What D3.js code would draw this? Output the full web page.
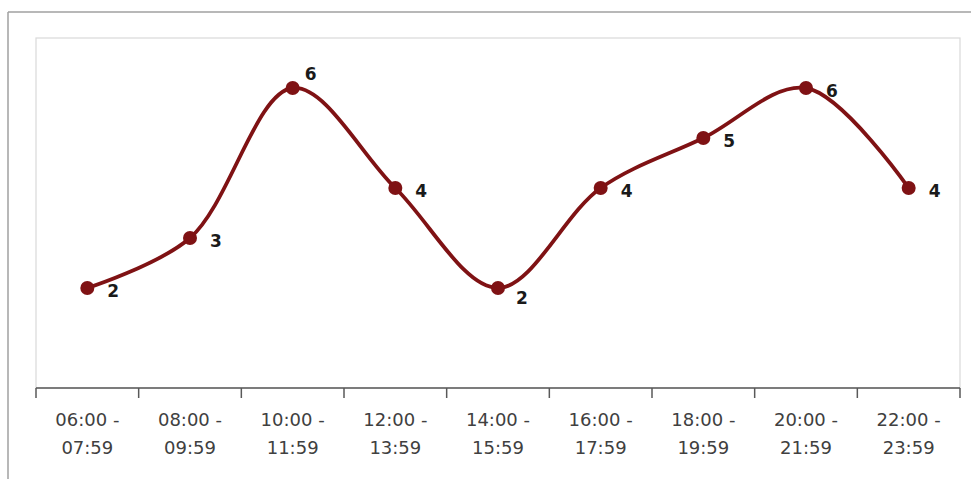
<!DOCTYPE html>
<html><head><meta charset="utf-8">
<script src="https://cdn.jsdelivr.net/npm/d3@7"></script>
<style>html,body{margin:0;padding:0;background:#fff;}svg{display:block;}</style>
</head><body>
<script>
const categories = ["06:00 - 07:59","08:00 - 09:59","10:00 - 11:59","12:00 - 13:59","14:00 - 15:59","16:00 - 17:59","18:00 - 19:59","20:00 - 21:59","22:00 - 23:59"];
const values = [2,3,6,4,2,4,5,6,4];
const yDomain = [0,7];

const W = 971, H = 479;
const plot = {left:36, right:960, top:38, bottom:388};
const svg = d3.select("body").append("svg").attr("width",W).attr("height",H);

// outer chart border (top + left visible)
svg.append("line").attr("x1",8).attr("y1",12).attr("x2",W).attr("y2",12).attr("stroke","#a0a0a0").attr("stroke-width",1.5);
svg.append("line").attr("x1",8).attr("y1",12).attr("x2",8).attr("y2",H).attr("stroke","#a0a0a0").attr("stroke-width",1.5);

// plot area border
svg.append("rect").attr("x",plot.left).attr("y",plot.top).attr("width",plot.right-plot.left).attr("height",plot.bottom-plot.top)
  .attr("fill","none").attr("stroke","#d9d9d9").attr("stroke-width",1.2);

const x = d3.scaleBand().domain(categories).range([plot.left,plot.right]).padding(0);
const y = d3.scaleLinear().domain(yDomain).range([plot.bottom,plot.top]);
const cx = d => x(d) + x.bandwidth()/2;

// x axis
const ax = svg.append("g").attr("transform",`translate(0,${plot.bottom})`);
ax.append("line").attr("x1",plot.left).attr("x2",plot.right).attr("y1",0).attr("y2",0).attr("stroke","#595959").attr("stroke-width",1.5);
const tickPos = categories.map(c=>x(c)).concat([plot.right]);
ax.selectAll("line.tick").data(tickPos).join("line").attr("class","tick")
  .attr("x1",d=>d).attr("x2",d=>d).attr("y1",0).attr("y2",10).attr("stroke","#595959").attr("stroke-width",1.5);
const lbl = ax.selectAll("text.lbl").data(categories).join("text").attr("class","lbl")
  .attr("x",d=>cx(d)).attr("text-anchor","middle")
  .attr("font-family","'DejaVu Sans', sans-serif").attr("font-size",18).attr("fill","#404040");
lbl.append("tspan").attr("x",d=>cx(d)).attr("y",38).text(d=>d.split(" - ")[0]+" -");
lbl.append("tspan").attr("x",d=>cx(d)).attr("y",66).text(d=>d.split(" - ")[1]);

// line
const pts = categories.map((c,i)=>[cx(c), y(values[i])]);
svg.append("path").attr("d", d3.line().curve(d3.curveCatmullRom.alpha(0.5))(pts))
  .attr("fill","none").attr("stroke","#7f1214").attr("stroke-width",3.8).attr("stroke-linecap","round");
svg.selectAll("circle.pt").data(pts).join("circle").attr("class","pt")
  .attr("cx",d=>d[0]).attr("cy",d=>d[1]).attr("r",7).attr("fill","#7f1214");

// data labels (right of point; two nudged as in the original)
const nudge = {2:[-8,-17], 4:[-2,7]};
svg.selectAll("text.dl").data(values).join("text").attr("class","dl")
  .attr("x",(d,i)=>pts[i][0]+20+(nudge[i]?nudge[i][0]:0))
  .attr("y",(d,i)=>pts[i][1]+9+(nudge[i]?nudge[i][1]:0))
  .attr("font-family","'DejaVu Sans', sans-serif").attr("font-weight","bold").attr("font-size",17).attr("fill","#1a1a1a")
  .text(d=>d);
</script>
</body></html>
